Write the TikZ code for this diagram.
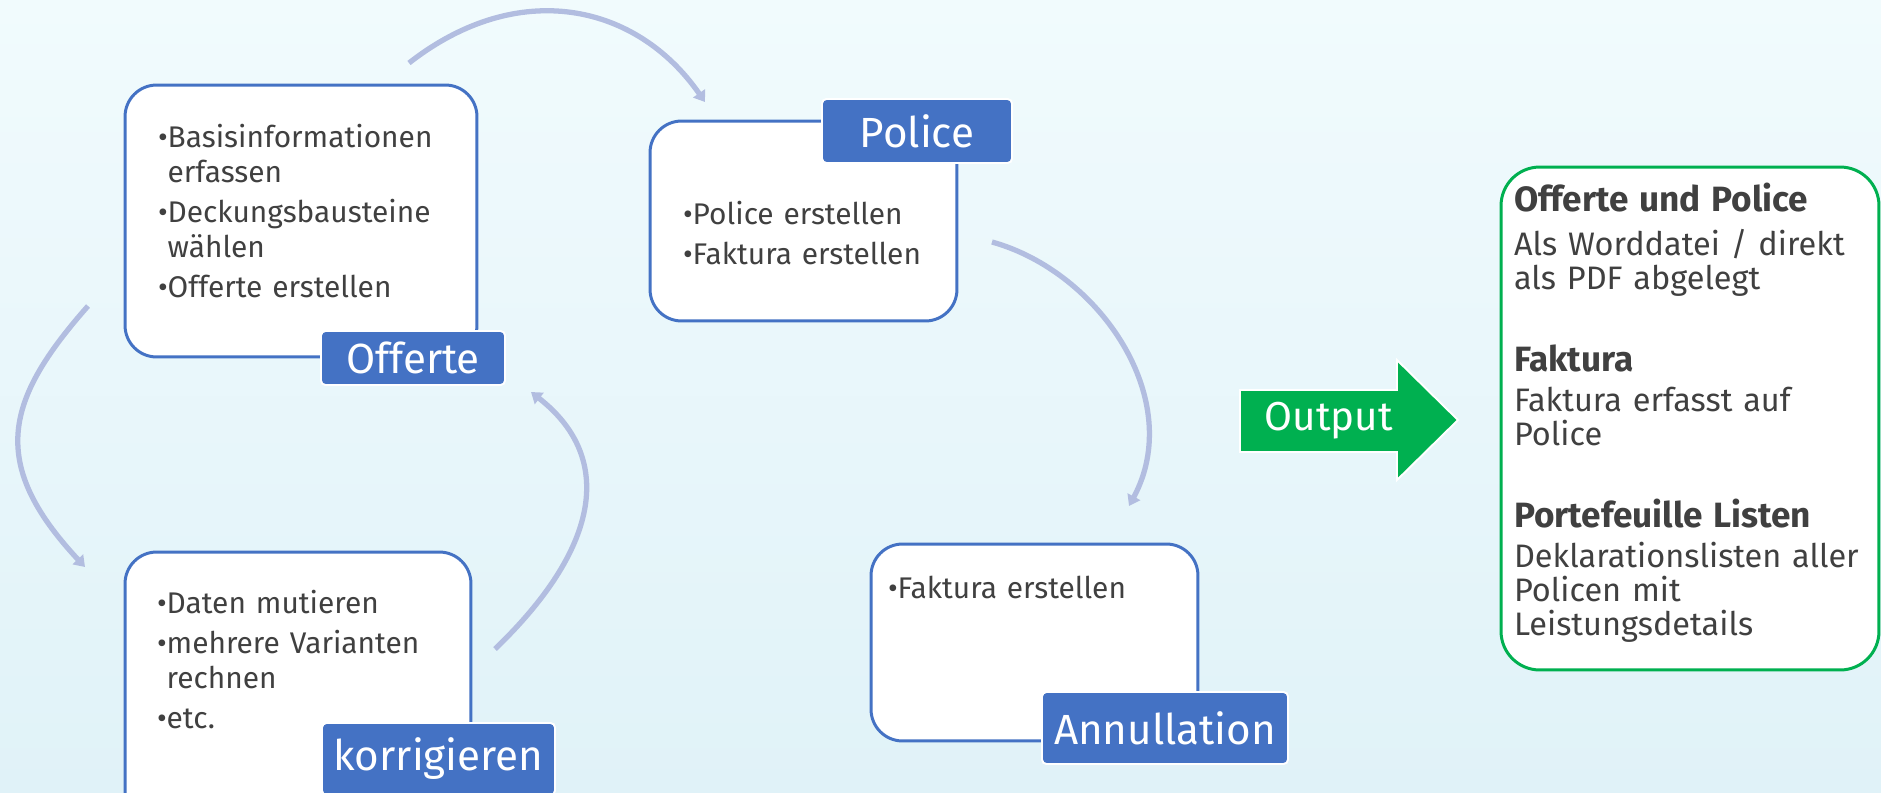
\documentclass[tikz,border=0pt]{standalone}
\usepackage{fontspec}
\setmainfont{Fira Sans}
\usetikzlibrary{arrows.meta}

\definecolor{bgtop}{RGB}{241,251,253}
\definecolor{bgbot}{RGB}{224,242,248}
\definecolor{cardblue}{RGB}{68,114,196}
\definecolor{cycblue}{RGB}{178,189,224}
\definecolor{outgreen}{RGB}{0,176,80}
\definecolor{txtgray}{RGB}{64,64,64}

\newlength\bulletwd
\newcommand\itm[2][2.9pt]{\par\vskip#1\settowidth\bulletwd{\textbullet}%
  \hangindent=\bulletwd\hangafter=1\noindent\strut\textbullet#2}
\lineskiplimit=-10pt

\begin{document}
\begin{tikzpicture}[x=0.02cm, y=-0.02cm,
  every node/.style = {inner sep=0pt, outer sep=0pt},
  card/.style = {draw=cardblue, line width=1.7pt, fill=white, rounded corners=18pt},
  tag/.style = {draw=white, line width=1.1pt, fill=cardblue, rounded corners=2.5pt,
    text=white, font=\fontsize{24}{28}\selectfont},
  bullets/.style = {anchor=north west, text width=7cm, text=txtgray,
    font=\fontsize{17}{19.8}\selectfont},
  outlist/.style = {anchor=north west, text width=7.2cm, text=txtgray,
    font=\fontsize{18.5}{19.3}\selectfont},
  cyc/.style = {draw=cycblue, line width=3pt, -{Triangle[length=6pt,width=8pt]}}]
\useasboundingbox (0,0) rectangle (1881,792);
\clip (0,0) rectangle (1881,792);
\shade[top color=bgtop, bottom color=bgbot] (0,0) rectangle (1881,792);

% cycle
\coordinate (c1a) at (409,63);  \coordinate (c1b) at (705,102);
\coordinate (c2a) at (992,242); \coordinate (c2b) at (1129,506);
\coordinate (c3a) at (495,649); \coordinate (c3b) at (531,392);
\coordinate (c4a) at (88,306);  \coordinate (c4b) at (85,567);
\draw[cyc] (c1a) .. controls (519,-23) and (637,4) .. (c1b);
\draw[cyc] (c2a) .. controls (1100,272) and (1186,400) .. (c2b);
\draw[cyc] (c3a) .. controls (596,552) and (618,460) .. (c3b);
\draw[cyc] (c4a) .. controls (5,400) and (-12,463) .. (c4b);

\node[card, minimum width=7.04cm, minimum height=5.44cm] (offerteBox) at (301,221) {};
\node[card, minimum width=6.14cm, minimum height=4cm] (policeBox) at (803.5,221) {};
\node[card, minimum width=6.92cm, minimum height=5.6cm] (korrBox) at (298,692) {};
\node[card, minimum width=6.54cm, minimum height=3.94cm] (annulBox) at (1034.5,642.5) {};

\node[tag, minimum width=3.68cm, minimum height=1.08cm] (offerteTag) at (413,358) {Offerte};
\node[tag, minimum width=3.8cm, minimum height=1.28cm] (policeTag) at (917,131) {Police};
\node[tag, minimum width=4.66cm, minimum height=1.44cm] (korrTag) at (438.5,759) {korrigieren};
\node[tag, minimum width=4.92cm, minimum height=1.44cm] (annulTag) at (1165,728) {Annullation};

\node[bullets] (offerteText) at (158,113)
  {\itm[0pt]{Basisinformationen\newline erfassen}\itm{Deckungsbausteine\newline wählen}\itm{Offerte erstellen}};
\node[bullets] (policeText) at (683,189.5)
  {\itm[0pt]{Police erstellen}\itm{Faktura erstellen}};
\node[bullets] (korrText) at (157,579)
  {\itm[0pt]{Daten mutieren}\itm{mehrere Varianten\newline rechnen}\itm{etc.}};
\node[bullets] (annulText) at (888,564)
  {\itm[0pt]{Faktura erstellen}};

% output
\filldraw[fill=outgreen, draw=white, line width=1.1pt] (1240,390) -- (1397,390) -- (1397,360)
  -- (1458,420) -- (1397,480) -- (1397,452) -- (1240,452) -- cycle;
\node[text=white, font=\fontsize{23}{27}\selectfont] (outLabel) at (1329,421) {Output};

\node[draw=outgreen, line width=1.7pt, fill=white, rounded corners=22pt,
  minimum width=7.56cm, minimum height=10.06cm] (outBox) at (1690,418.5) {};
\node[outlist] (outText) at (1514,183)
  {\noindent\strut\textbf{\fontsize{20}{19.3}\selectfont Offerte und Police}\\[3.5pt]
   Als Worddatei / direkt\\
   als PDF abgelegt\\[27.3pt]
   \textbf{\fontsize{20}{19.3}\selectfont Faktura}\\[3.5pt]
   Faktura erfasst auf\\
   Police\\[27.3pt]
   \textbf{\fontsize{20}{19.3}\selectfont Portefeuille Listen}\\[3.5pt]
   Deklarationslisten aller\\
   Policen mit\\
   Leistungsdetails};
\end{tikzpicture}
\end{document}
